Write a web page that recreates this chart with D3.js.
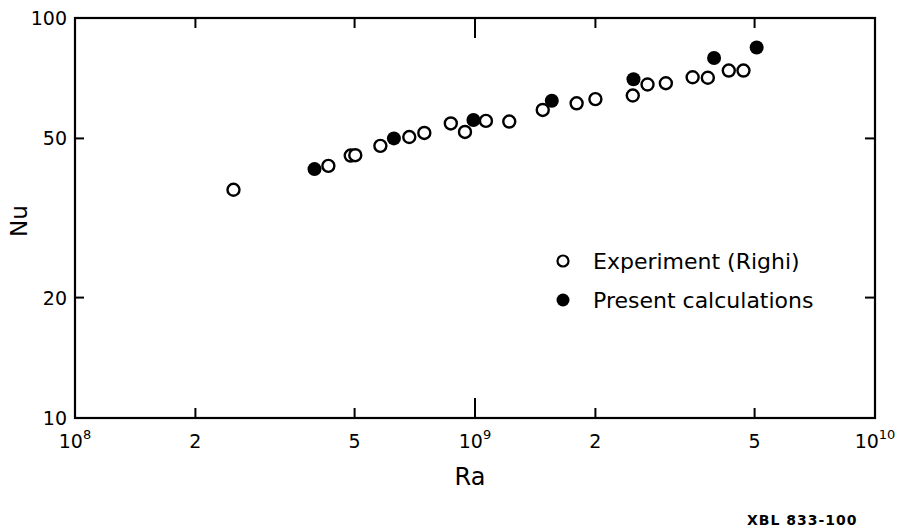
<!DOCTYPE html>
<html>
<head>
<meta charset="utf-8">
<script src="https://cdn.jsdelivr.net/npm/d3@7/dist/d3.min.js"></script>
<style>
  html, body { margin: 0; padding: 0; background: #fff; }
  svg { display: block; }
  text { font-family: "DejaVu Sans", sans-serif; fill: #000; }
</style>
</head>
<body>
<svg id="chart" width="898" height="529"></svg>
<script>
// ---- data ----
const experimentRa = [2.49e8, 4.30e8, 4.89e8, 5.02e8, 5.80e8, 6.85e8, 7.47e8, 8.70e8, 9.44e8, 1.065e9,
                      1.218e9, 1.477e9, 1.795e9, 2.00e9, 2.48e9, 2.70e9, 3.00e9, 3.50e9, 3.82e9, 4.31e9, 4.69e9];
const experimentNu = [37.2, 42.7, 45.3, 45.4, 47.9, 50.4, 51.6, 54.5, 51.9, 55.3,
                      55.1, 58.9, 61.2, 62.7, 64.0, 68.2, 68.7, 71.1, 70.9, 73.9, 73.9];
const calcRa = [3.97e8, 6.27e8, 9.91e8, 1.556e9, 2.49e9, 3.96e9, 5.06e9];
const calcNu = [41.9, 50.0, 55.6, 62.1, 70.3, 79.4, 84.4];

const xTickValues = [1e8, 2e8, 5e8, 1e9, 2e9, 5e9, 1e10];
const xTickLabels = [["10","8"], ["2",""], ["5",""], ["10","9"], ["2",""], ["5",""], ["10","10"]];
const yTickValues = [10, 20, 50, 100];
const yTickLabels = ["10", "20", "50", "100"];
const legendLabels = ["Experiment (Righi)", "Present calculations"];

// ---- layout ----
const svg = d3.select("#chart");
const pLeft = 75, pRight = 875, pTop = 18, pBottom = 418;
const x = d3.scaleLog().domain([1e8, 1e10]).range([pLeft, pRight]);
const y = d3.scaleLog().domain([10, 100]).range([pBottom, pTop]);

// frame
svg.append("rect")
  .attr("x", pLeft).attr("y", pTop)
  .attr("width", pRight - pLeft).attr("height", pBottom - pTop)
  .attr("fill", "none").attr("stroke", "#000").attr("stroke-width", 2.2);

// x ticks (bottom & top, inward)
const innerX = xTickValues.slice(1, -1);
const tlen = v => (v === 1e9 ? 20 : 10);
svg.append("g").selectAll("line").data(innerX).join("line")
  .attr("x1", d => x(d)).attr("x2", d => x(d))
  .attr("y1", pBottom).attr("y2", d => pBottom - tlen(d))
  .attr("stroke", "#000").attr("stroke-width", 2);
svg.append("g").selectAll("line").data(innerX).join("line")
  .attr("x1", d => x(d)).attr("x2", d => x(d))
  .attr("y1", pTop).attr("y2", d => pTop + tlen(d))
  .attr("stroke", "#000").attr("stroke-width", 2);

// y ticks (left & right, inward)
const innerY = yTickValues.slice(1, -1);
svg.append("g").selectAll("line").data(innerY).join("line")
  .attr("x1", pLeft).attr("x2", pLeft + 9)
  .attr("y1", d => y(d)).attr("y2", d => y(d))
  .attr("stroke", "#000").attr("stroke-width", 2);
svg.append("g").selectAll("line").data(innerY).join("line")
  .attr("x1", pRight).attr("x2", pRight - 10)
  .attr("y1", d => y(d)).attr("y2", d => y(d))
  .attr("stroke", "#000").attr("stroke-width", 2);

// x tick labels
const xl = svg.append("g").selectAll("text").data(xTickValues).join("text")
  .attr("x", d => x(d)).attr("y", 448)
  .attr("text-anchor", "middle")
  .attr("font-size", 19);
xl.each(function(d, i) {
  const t = d3.select(this);
  const lab = xTickLabels[i];
  t.append("tspan").text(lab[0]);
  if (lab[1]) t.append("tspan").attr("dy", -9).attr("font-size", 13).text(lab[1]);
});

// y tick labels
svg.append("g").selectAll("text").data(yTickValues).join("text")
  .attr("x", 67).attr("y", d => y(d) + 7)
  .attr("text-anchor", "end")
  .attr("font-size", 19)
  .text((d, i) => yTickLabels[i]);

// axis titles
svg.append("text").attr("x", 470).attr("y", 485)
  .attr("text-anchor", "middle").attr("font-size", 24).text("Ra");
svg.append("text").attr("transform", "translate(27,221) rotate(-90)")
  .attr("text-anchor", "middle").attr("font-size", 23).text("Nu");

// data
const expData = experimentRa.map((r, i) => ({ r, n: experimentNu[i] }));
const calcData = calcRa.map((r, i) => ({ r, n: calcNu[i] }));
svg.append("g").selectAll("circle").data(expData).join("circle")
  .attr("cx", d => x(d.r)).attr("cy", d => y(d.n)).attr("r", 6)
  .attr("fill", "#fff").attr("stroke", "#000").attr("stroke-width", 2.4);
svg.append("g").selectAll("circle").data(calcData).join("circle")
  .attr("cx", d => x(d.r)).attr("cy", d => y(d.n)).attr("r", 7)
  .attr("fill", "#000");

// legend
const lg = svg.append("g");
lg.append("circle").attr("cx", 563).attr("cy", 261).attr("r", 5.5)
  .attr("fill", "#fff").attr("stroke", "#000").attr("stroke-width", 2.2);
lg.append("circle").attr("cx", 563).attr("cy", 300).attr("r", 6.5).attr("fill", "#000");
lg.append("text").attr("x", 593).attr("y", 269).attr("font-size", 22).text(legendLabels[0]);
lg.append("text").attr("x", 593).attr("y", 308).attr("font-size", 22).text(legendLabels[1]);

// figure id
svg.append("text").attr("x", 747).attr("y", 525)
  .attr("font-size", 14).attr("font-weight", "bold").attr("letter-spacing", 1)
  .text("XBL 833-100");
</script>
</body>
</html>
